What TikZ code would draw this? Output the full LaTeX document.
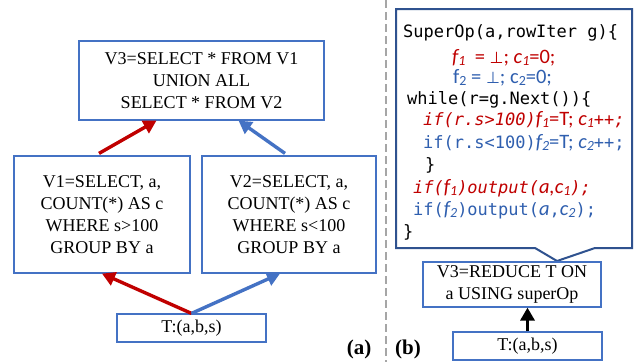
\documentclass[tikz,border=0pt]{standalone}
\usepackage{fontspec}
\setmainfont{Liberation Serif}
\newfontfamily\cf{DejaVu Sans Mono}
\newfontfamily\cb{Carlito}
\newfontfamily\symf{DejaVu Sans}
\usetikzlibrary{arrows.meta,calc}
\definecolor{myred}{HTML}{C00000}
\definecolor{myblue}{HTML}{4472C4}
\definecolor{txtblue}{HTML}{2F5FAF}
\definecolor{dkblue}{HTML}{2F528F}
\definecolor{dgray}{HTML}{A6A6A6}
\newcommand\mysb[1]{\raisebox{-0.3ex}{\fontsize{14}{14}\selectfont #1}}
\newcommand\cbf{\cb\fontsize{20.5}{22}\selectfont}
\begin{document}
\begin{tikzpicture}[x=1pt,y=-1pt,
  box/.style={draw=myblue, line width=1.2pt, align=center, inner sep=0pt, font=\fontsize{18}{22}\selectfont},
  arr/.style={line width=3.4pt, -{Triangle[length=13pt,width=14pt]}},
  codeline/.style={anchor=base west, inner sep=0pt, font=\fontsize{17}{20}\selectfont},
  lbl/.style={font=\bfseries\fontsize{21}{21}\selectfont, inner sep=0pt}]
\useasboundingbox (0,0) rectangle (634,362);
% divider
\draw[dgray, line width=2.5pt, dash pattern=on 8pt off 4pt] (386,0) -- (386,362);
% (a)
\node[box, minimum width=245, minimum height=79] (V3) at (201.5,80.5) {V3=SELECT * FROM V1\\UNION ALL\\SELECT * FROM V2};
\node[box, minimum width=176, minimum height=117] (V1) at (102,214.5) {V1=SELECT, a,\\COUNT(*) AS c\\WHERE s>100\\GROUP BY a};
\node[box, minimum width=174, minimum height=117] (V2) at (289,214.5) {V2=SELECT, a,\\COUNT(*) AS c\\WHERE s<100\\GROUP BY a};
\node[box, minimum width=149, minimum height=28] (T) at (191.5,328) {T:(a,b,s)};
\draw[arr, myred] (T.north) -- (V1.south);
\draw[arr, myblue] (T.north) -- ($(V2.south)+(-9,0)$);
\draw[arr, myred] ($(V1.north)+(-3,-2)$) -- ($(V3.south)+(-45,0)$);
\draw[arr, myblue] ($(V2.north)+(-4,-2)$) -- ($(V3.south)+(37,0)$);
\node[lbl] (la) at (359,349) {(a)};
% (b)
\node[lbl] (lb) at (408,349) {(b)};
\draw[dkblue, line width=2pt, fill=white] (396,9) -- (632,9) -- (632,248) -- (595,248) -- (557,261) -- (535,248) -- (396,248) -- cycle;
\node[codeline] (c1) at (403,37) {\cf SuperOp(a,rowIter g)\{};
\node[codeline, text=myred] (c2) at (452,63) {\cbf\itshape f\mysb{1}\upshape ~~= {\symf\fontsize{16}{20}\selectfont ⊥}; \itshape c\mysb{1}\upshape =0;};
\node[codeline, text=txtblue] (c3) at (453,83) {\cbf f\mysb{2} = {\symf\fontsize{16}{20}\selectfont ⊥}; c\mysb{2}=0;};
\node[codeline] (c4) at (407,104) {\cf while(r=g.Next())\{};
\node[codeline, text=myred] (c5) at (423,125) {{\cf\itshape if(r.s>100)}{\cbf\itshape f\mysb{1}\upshape =T; \itshape c\mysb{1}}{\cf\itshape ++;}};
\node[codeline, text=txtblue] (c6) at (423,148) {{\cf if(r.s<100)}{\cbf\itshape f\mysb{2}\upshape =T; \itshape c\mysb{2}}{\cf ++;}};
\node[codeline] (c7) at (425,170) {\cf \}};
\node[codeline, text=myred] (c8) at (413,193) {{\cf\itshape if(}{\cbf\itshape f\mysb{1}}{\cf\itshape )output(}{\cbf\itshape a,c\mysb{1}}{\cf\itshape );}};
\node[codeline, text=txtblue] (c9) at (413,215) {{\cf if(}{\cbf\itshape f\mysb{2}}{\cf )output(}{\cbf\itshape a}{\cf ,}{\cbf\itshape c\mysb{2}}{\cf );}};
\node[codeline] (c10) at (403,237) {\cf \}};
\node[box, minimum width=178, minimum height=45] (R) at (512,284.5) {V3=REDUCE T ON\\a USING superOp};
\node[box, minimum width=149, minimum height=28] (Tb) at (527.5,346) {T:(a,b,s)};
\draw[arr, black] (Tb.north) -- (R.south -| Tb.north);
\end{tikzpicture}
\end{document}
